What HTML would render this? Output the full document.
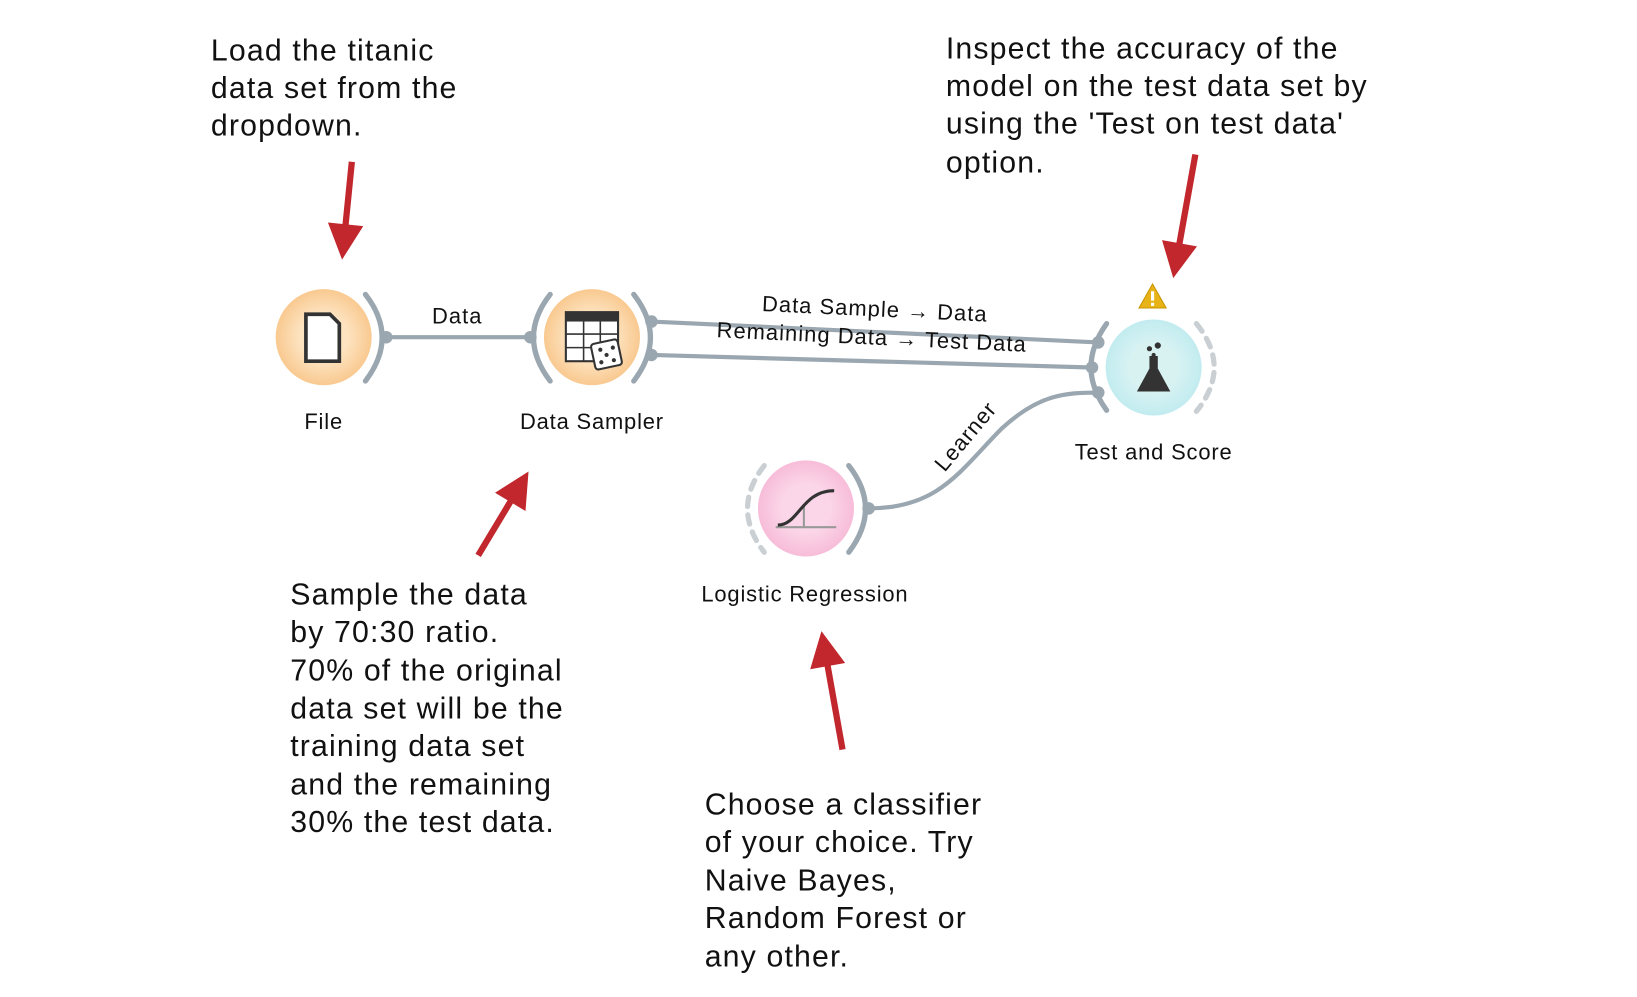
<!DOCTYPE html>
<html><head><meta charset="utf-8"><style>
html,body{margin:0;padding:0;background:#fff;}
svg{display:block;}
text{font-family:"Liberation Sans",sans-serif;fill:#111;}
</style></head><body>
<svg width="1637" height="997" viewBox="0 0 1568 955" xmlns="http://www.w3.org/2000/svg">
<defs>
<radialGradient id="og"><stop offset="0.5" stop-color="#fde3c0"/><stop offset="1" stop-color="#f9c990"/></radialGradient>
<radialGradient id="cg"><stop offset="0.5" stop-color="#d8f2f2"/><stop offset="1" stop-color="#c2ecf0"/></radialGradient>
<radialGradient id="pg"><stop offset="0.5" stop-color="#fbd6e8"/><stop offset="1" stop-color="#f7bcd9"/></radialGradient>
<marker id="ah" viewBox="0 0 10 10" refX="3" refY="5" markerWidth="44" markerHeight="34" markerUnits="userSpaceOnUse" orient="auto">
<path d="M0,0 L10,5 L0,10 z" fill="#c1272d"/></marker>
</defs>

<!-- connectors -->
<g stroke="#9aa7b0" stroke-width="4" fill="none">
<line x1="370" y1="323" x2="508" y2="323"/>
<line x1="624" y1="308" x2="1052" y2="328"/>
<line x1="624" y1="340" x2="1045" y2="352"/>
<path d="M832,487 C900,487 920,450 960,410 C995,378 1020,376 1052,376"/>
</g>
<g letter-spacing="1">
<text x="438" y="310" font-size="21" text-anchor="middle">Data</text>
<text x="838" y="303" font-size="21" text-anchor="middle" transform="rotate(2.7 838 296)">Data Sample → Data</text>
<text x="835" y="330" font-size="21" text-anchor="middle" transform="rotate(2.7 835 323)">Remaining Data → Test Data</text>
<text x="925" y="425" font-size="21" text-anchor="middle" transform="rotate(-50 925 418)">Learner</text>
</g>

<!-- File -->
<circle cx="310" cy="323" r="46" fill="url(#og)"/>
<path d="M350,282 Q382,323 350,365" stroke="#9aa7b0" stroke-width="5" fill="none" stroke-linecap="round"/>
<circle cx="370" cy="323" r="6" fill="#9aa7b0"/>
<path d="M293,301 h23 l9,9 v36 h-32 z" fill="#fff" stroke="#333" stroke-width="3.5"/>

<!-- Data Sampler -->
<circle cx="567" cy="323" r="46" fill="url(#og)"/>
<path d="M527,282 Q495,323 527,365" stroke="#9aa7b0" stroke-width="5" fill="none" stroke-linecap="round"/>
<path d="M607,282 Q639,323 607,365" stroke="#9aa7b0" stroke-width="5" fill="none" stroke-linecap="round"/>
<circle cx="508" cy="323" r="6" fill="#9aa7b0"/>
<circle cx="624" cy="308" r="6" fill="#9aa7b0"/>
<circle cx="624" cy="340" r="6" fill="#9aa7b0"/>
<rect x="542" y="299" width="50" height="47" fill="#fff" stroke="#333" stroke-width="2"/>
<rect x="542" y="299" width="50" height="9" fill="#333"/>
<g stroke="#333" stroke-width="1.5"><line x1="559" y1="308" x2="559" y2="346"/><line x1="575" y1="308" x2="575" y2="346"/><line x1="542" y1="320" x2="592" y2="320"/><line x1="542" y1="333" x2="592" y2="333"/></g>
<rect x="568" y="327" width="26" height="25" rx="3" fill="#fff" stroke="#333" stroke-width="2" transform="rotate(-12 581 340)"/>
<g fill="#333"><circle cx="575" cy="335" r="2"/><circle cx="587" cy="333" r="2"/><circle cx="581" cy="340" r="2"/><circle cx="576" cy="347" r="2"/><circle cx="588" cy="345" r="2"/></g>

<!-- Test and Score -->
<circle cx="1105" cy="352" r="46" fill="url(#cg)"/>
<path d="M1060,310 Q1030,352 1060,393" stroke="#9aa7b0" stroke-width="5" fill="none" stroke-linecap="round"/>
<path d="M1146,310 Q1180,352 1146,394" stroke="#c9cfd3" stroke-width="5" fill="none" stroke-dasharray="9 8" stroke-linecap="round"/>
<circle cx="1052" cy="328" r="6" fill="#9aa7b0"/>
<circle cx="1046" cy="352" r="6" fill="#9aa7b0"/>
<circle cx="1052" cy="376" r="6" fill="#9aa7b0"/>
<path d="M1101,341 v12 l-12,22 h32 l-12,-22 v-12 z" fill="#333"/>
<circle cx="1109" cy="331" r="3" fill="#333"/><circle cx="1101" cy="334" r="2.5" fill="#333"/><circle cx="1105" cy="340" r="2" fill="#333"/>
<path d="M1104,272 L1117,295 H1091 Z" fill="#e8b317" stroke="#c99500" stroke-width="1"/>
<rect x="1102.5" y="279" width="3" height="9" fill="#fff"/><rect x="1102.5" y="290" width="3" height="3" fill="#fff"/>

<!-- Logistic Regression -->
<circle cx="772" cy="487" r="46" fill="url(#pg)"/>
<path d="M732,446 Q700,487 732,529" stroke="#c9cfd3" stroke-width="5" fill="none" stroke-dasharray="9 8" stroke-linecap="round"/>
<path d="M813,446 Q845,487 813,529" stroke="#9aa7b0" stroke-width="5" fill="none" stroke-linecap="round"/>
<circle cx="832" cy="487" r="6" fill="#9aa7b0"/>
<line x1="743" y1="505" x2="801" y2="505" stroke="#999" stroke-width="2"/>
<line x1="770" y1="483" x2="770" y2="505" stroke="#999" stroke-width="2"/>
<path d="M745,503 C765,503 768,470 799,470" stroke="#333" stroke-width="3" fill="none"/>

<g font-size="21" text-anchor="middle" letter-spacing="0.8">
<text x="310" y="411">File</text>
<text x="567" y="411">Data Sampler</text>
<text x="1105" y="440">Test and Score</text>
<text x="771" y="576">Logistic Regression</text>
</g>

<!-- annotations -->
<g font-size="29" letter-spacing="1.1">
<text x="202" y="58">Load the titanic</text>
<text x="202" y="94">data set from the</text>
<text x="202" y="130">dropdown.</text>
<text x="906" y="56">Inspect the accuracy of the</text>
<text x="906" y="92">model on the test data set by</text>
<text x="906" y="128">using the 'Test on test data'</text>
<text x="906" y="165">option.</text>
<text x="278" y="579">Sample the data</text>
<text x="278" y="615">by 70:30 ratio.</text>
<text x="278" y="652">70% of the original</text>
<text x="278" y="688">data set will be the</text>
<text x="278" y="724">training data set</text>
<text x="278" y="761">and the remaining</text>
<text x="278" y="797">30% the test data.</text>
<text x="675" y="780">Choose a classifier</text>
<text x="675" y="816">of your choice. Try</text>
<text x="675" y="853">Naive Bayes,</text>
<text x="675" y="889">Random Forest or</text>
<text x="675" y="926">any other.</text>
</g>

<!-- red arrows -->
<g stroke="#c1272d" stroke-width="6" marker-end="url(#ah)">
<line x1="337" y1="155" x2="330" y2="225"/>
<line x1="1145" y1="148" x2="1128" y2="243"/>
<line x1="458" y1="532" x2="494" y2="472"/>
<line x1="807" y1="718" x2="791" y2="628"/>
</g>
</svg>
</body></html>
